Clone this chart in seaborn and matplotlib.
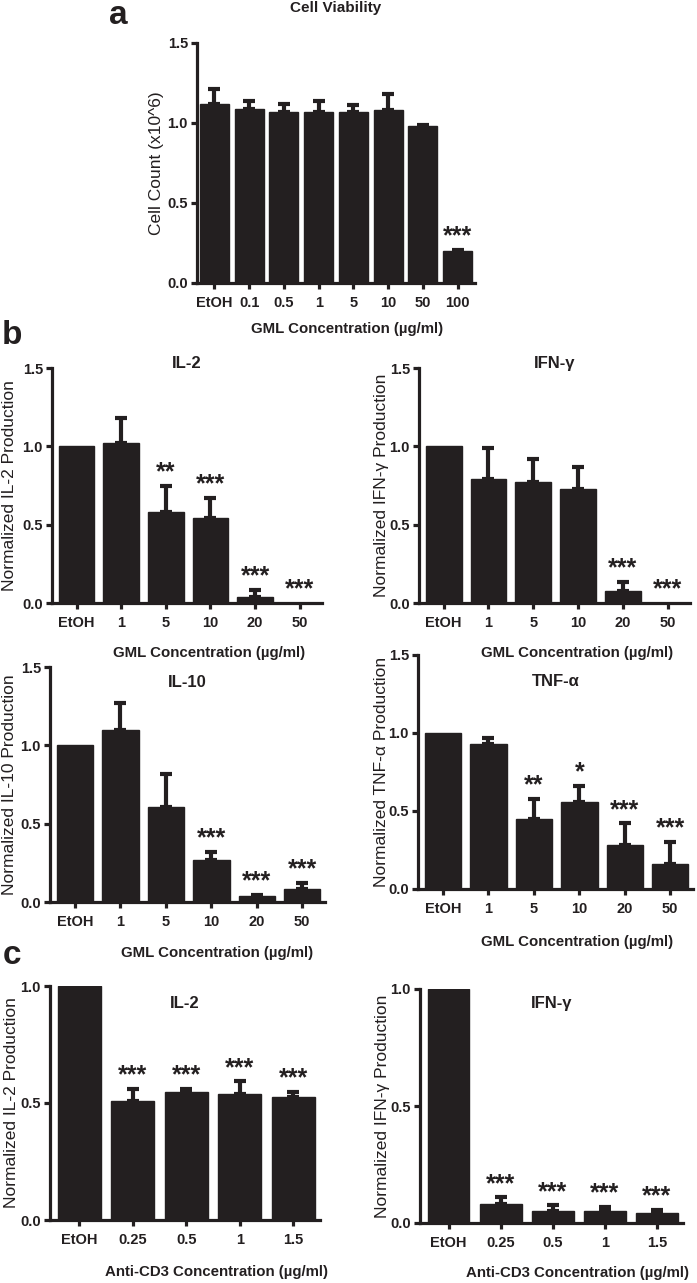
import numpy as np
import seaborn as sns
import matplotlib.pyplot as plt

# values (mean, upper error, significance)
cv_labels = ['EtOH', '0.1', '0.5', '1', '5', '10', '50', '100']
cv_mean = [1.12, 1.09, 1.07, 1.07, 1.07, 1.08, 0.98, 0.20]
cv_err = [0.09, 0.05, 0.05, 0.07, 0.04, 0.10, 0.005, 0.005]
cv_sig = ['', '', '', '', '', '', '', '***']

gml_labels = ['EtOH', '1', '5', '10', '20', '50']
il2_mean = [1.0, 1.02, 0.58, 0.54, 0.04, 0.003]
il2_err = [0, 0.16, 0.17, 0.13, 0.045, 0]
il2_sig = ['', '', '**', '***', '***', '***']
ifng_mean = [1.0, 0.79, 0.77, 0.73, 0.077, 0.002]
ifng_err = [0, 0.20, 0.15, 0.14, 0.06, 0]
ifng_sig = ['', '', '', '', '***', '***']
il10_mean = [1.0, 1.10, 0.605, 0.265, 0.04, 0.08]
il10_err = [0, 0.17, 0.215, 0.055, 0.005, 0.04]
il10_sig = ['', '', '', '***', '***', '***']
tnf_mean = [1.0, 0.93, 0.45, 0.56, 0.28, 0.16]
tnf_err = [0, 0.04, 0.13, 0.10, 0.14, 0.14]
tnf_sig = ['', '', '**', '*', '***', '***']

cd3_labels = ['EtOH', '0.25', '0.5', '1', '1.5']
cd3_il2_mean = [1.0, 0.51, 0.545, 0.537, 0.524]
cd3_il2_err = [0, 0.05, 0.015, 0.055, 0.025]
cd3_ifng_mean = [1.0, 0.083, 0.05, 0.05, 0.044]
cd3_ifng_err = [0, 0.027, 0.026, 0.02, 0.011]
cd3_sig = ['', '***', '***', '***', '***']

sns.set_style("ticks")
plt.rcParams['font.family'] = ['Liberation Sans', 'DejaVu Sans']

BAR = '#231f20'

fig = plt.figure(figsize=(6.97, 12.83), dpi=100)
W, H = 697.0, 1283.0


def make_ax(l, r, t, b):
    ax = fig.add_axes([l / W, 1 - b / H, (r - l) / W, (b - t) / H])
    ax.patch.set_visible(False)
    return ax


def panel(ax, labels, mean, err, sig, ylabel, title, title_y, xlabel, xlab_x, ymax,
          left_pad, xlim_l=-0.55, width=0.8, title_size=12):
    n = len(labels)
    sns.barplot(x=labels, y=mean, color=BAR, saturation=1, width=width,
                errorbar=None, ax=ax)
    for p in ax.patches:
        p.set_edgecolor(BAR)
    x = np.arange(n)
    e = np.array(err)
    m = np.array(mean)
    has = e > 0
    ax.errorbar(x[has], m[has], yerr=[np.zeros(has.sum()), e[has]], fmt='none',
                ecolor=BAR, elinewidth=3, capsize=4.5, capthick=3)
    for xi, yi, ei, s in zip(x, m, e, sig):
        if s:
            ax.annotate(s, (xi, yi + ei), xytext=(0, 1), textcoords='offset points',
                        ha='center', va='bottom', fontsize=18, fontweight='bold',
                        color=BAR)
    ax.set_xlim(xlim_l, n - 0.5)
    ax.set_ylim(0, ymax)
    ticks = np.arange(0, ymax + 0.01, 0.5)
    ax.set_yticks(ticks)
    ax.set_yticklabels([f'{v:.1f}' for v in ticks])
    sns.despine(ax=ax)
    for sp in ['left', 'bottom']:
        ax.spines[sp].set_linewidth(2.3)
        ax.spines[sp].set_color(BAR)
    ax.tick_params(axis='both', width=2.3, length=4.5, color=BAR, labelsize=10.5,
                   pad=2, labelcolor=BAR)
    for lab in ax.get_xticklabels() + ax.get_yticklabels():
        lab.set_fontweight('bold')
    ax.tick_params(axis='x', pad=5)
    ax.set_ylabel(ylabel, fontsize=12.5, color=BAR)
    bb = ax.get_position()
    ax.yaxis.set_label_coords(-left_pad / (bb.width * W), 0.5)
    ax.yaxis.label.set_va('center')
    ax.set_xlabel(xlabel, fontsize=10.8, fontweight='bold', color=BAR)
    ax.xaxis.set_label_coords(xlab_x[0], xlab_x[1])
    ax.xaxis.label.set_va('center')
    ax.text(0.5, title_y, title, transform=ax.transAxes, ha='center', va='center',
            fontsize=title_size, fontweight='bold', color=BAR)


gml = 'GML Concentration (µg/ml)'
cd3 = 'Anti-CD3 Concentration (µg/ml)'

ax_a = make_ax(197, 475, 43, 283)
panel(ax_a, cv_labels, cv_mean, cv_err, cv_sig, 'Cell Count (x10^6)', 'Cell Viability',
      1.146, gml, (0.54, -0.19), 1.5, 40, xlim_l=-0.5, width=0.84, title_size=11)

ax_b1 = make_ax(52, 322, 368, 603)
panel(ax_b1, gml_labels, il2_mean, il2_err, il2_sig, 'Normalized IL-2 Production', 'IL-2',
      1.02, gml, (0.58, -0.213), 1.5, 42)

ax_b2 = make_ax(419, 690, 368, 603)
panel(ax_b2, gml_labels, ifng_mean, ifng_err, ifng_sig, 'Normalized IFN-γ Production',
      'IFN-γ', 1.02, gml, (0.585, -0.213), 1.5, 38)

ax_b3 = make_ax(50, 325, 667, 902)
panel(ax_b3, gml_labels, il10_mean, il10_err, il10_sig, 'Normalized IL-10 Production',
      'IL-10', 0.936, gml, (0.607, -0.217), 1.5, 40)

ax_b4 = make_ax(418, 693, 655, 889)
panel(ax_b4, gml_labels, tnf_mean, tnf_err, tnf_sig, 'Normalized TNF-α Production',
      'TNF-α', 0.885, gml, (0.578, -0.226), 1.5, 37)

ax_c1 = make_ax(50, 320, 986, 1220)
panel(ax_c1, cd3_labels, cd3_il2_mean, cd3_il2_err, cd3_sig, 'Normalized IL-2 Production',
      'IL-2', 0.927, cd3, (0.618, -0.222), 1.0, 38)

ax_c2 = make_ax(420, 683, 989, 1223)
panel(ax_c2, cd3_labels, cd3_ifng_mean, cd3_ifng_err, cd3_sig,
      'Normalized IFN-γ Production', 'IFN-γ', 0.94, cd3, (0.6, -0.214), 1.0, 38)

for letter, fx, fy in [('a', 118, 15), ('b', 12, 335), ('c', 12, 955)]:
    fig.text(fx / W, 1 - fy / H, letter, ha='center', va='center', fontsize=24,
             fontweight='bold', color=BAR)

fig.savefig('out.png', dpi=100)
